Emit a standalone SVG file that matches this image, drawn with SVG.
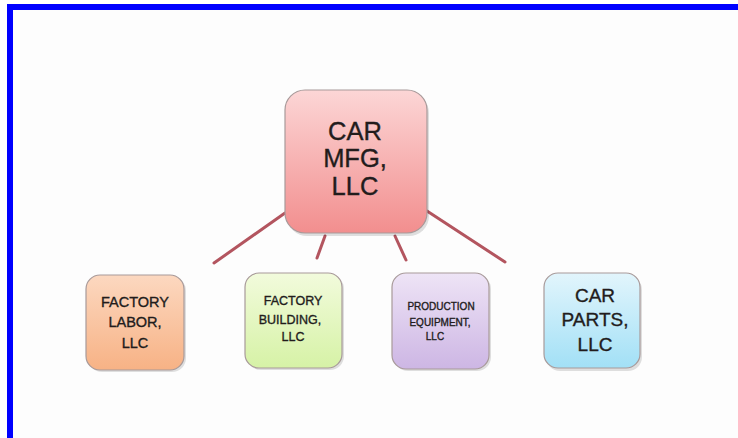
<svg xmlns="http://www.w3.org/2000/svg" width="738" height="438" viewBox="0 0 738 438">
<style>
  .box { stroke: #a89a9a; stroke-width: 1.2; }
  .shadow { fill: #000; opacity: 0.12; }
  .conn { stroke: #b3555f; stroke-width: 3; stroke-linecap: round; fill: none; }
  text { font-family: "Liberation Sans", Arial, sans-serif; fill: #221c1c; stroke: #221c1c; stroke-width: 0.35; text-anchor: middle; }
</style>
<defs>
  <linearGradient id="gRed" x1="0" y1="0" x2="0" y2="1">
    <stop offset="0" stop-color="#fcd6d6"/>
    <stop offset="1" stop-color="#f28e8e"/>
  </linearGradient>
  <linearGradient id="gOrange" x1="0" y1="0" x2="0" y2="1">
    <stop offset="0" stop-color="#fcd8c0"/>
    <stop offset="1" stop-color="#f7b285"/>
  </linearGradient>
  <linearGradient id="gGreen" x1="0" y1="0" x2="0" y2="1">
    <stop offset="0" stop-color="#f2fbdc"/>
    <stop offset="1" stop-color="#d6f2a6"/>
  </linearGradient>
  <linearGradient id="gPurple" x1="0" y1="0" x2="0" y2="1">
    <stop offset="0" stop-color="#eee4f6"/>
    <stop offset="1" stop-color="#cdb6e4"/>
  </linearGradient>
  <linearGradient id="gBlue" x1="0" y1="0" x2="0" y2="1">
    <stop offset="0" stop-color="#e2f5fc"/>
    <stop offset="1" stop-color="#a2e0f6"/>
  </linearGradient>
</defs>
<rect x="0" y="0" width="738" height="438" fill="#ffffff"/>
<rect x="13" y="10" width="725" height="428" fill="#fdfdfd"/>
<g id="frame">
  <rect x="7" y="4" width="731" height="6" fill="#0000ff"/>
  <rect x="7" y="4" width="6" height="434" fill="#0000ff"/>
</g>
<g id="connectors">
  <line class="conn" x1="285" y1="213" x2="214" y2="263"/>
  <line class="conn" x1="325" y1="236" x2="317" y2="258"/>
  <line class="conn" x1="395" y1="236" x2="406" y2="260"/>
  <line class="conn" x1="427" y1="211" x2="505" y2="262"/>
</g>
<g id="root">
  <rect class="shadow" x="287" y="93" width="142" height="143" rx="20"/>
  <rect class="box" x="285" y="90" width="142" height="143" rx="20" fill="url(#gRed)"/>
  <text x="355" y="140" font-size="25.5">CAR</text>
  <text x="355" y="167" font-size="25.5">MFG,</text>
  <text x="355" y="195" font-size="25.5">LLC</text>
</g>
<g id="factory-labor">
  <rect class="shadow" x="88" y="277" width="98" height="95" rx="14"/>
  <rect class="box" x="86" y="275" width="98" height="95" rx="14" fill="url(#gOrange)"/>
  <text x="135" y="307" font-size="14.5">FACTORY</text>
  <text x="135" y="327" font-size="14.5">LABOR,</text>
  <text x="135" y="348" font-size="14.5">LLC</text>
</g>
<g id="factory-building">
  <rect class="shadow" x="247" y="275" width="97" height="95" rx="14"/>
  <rect class="box" x="245" y="273" width="97" height="95" rx="14" fill="url(#gGreen)"/>
  <text x="293" y="305" font-size="12.5">FACTORY</text>
  <text x="290" y="324" font-size="12.5">BUILDING,</text>
  <text x="293" y="341" font-size="12.5">LLC</text>
</g>
<g id="production-equipment">
  <rect class="shadow" x="394" y="275" width="97" height="96" rx="14"/>
  <rect class="box" x="392" y="273" width="97" height="96" rx="14" fill="url(#gPurple)"/>
  <text x="441" y="310" font-size="10">PRODUCTION</text>
  <text x="440" y="326" font-size="10">EQUIPMENT,</text>
  <text x="435" y="340" font-size="10">LLC</text>
</g>
<g id="car-parts">
  <rect class="shadow" x="546" y="276" width="96" height="95" rx="14"/>
  <rect class="box" x="544" y="273" width="96" height="95" rx="14" fill="url(#gBlue)"/>
  <text x="595" y="302" font-size="19">CAR</text>
  <text x="595" y="326" font-size="19">PARTS,</text>
  <text x="595" y="351" font-size="19">LLC</text>
</g>
</svg>
